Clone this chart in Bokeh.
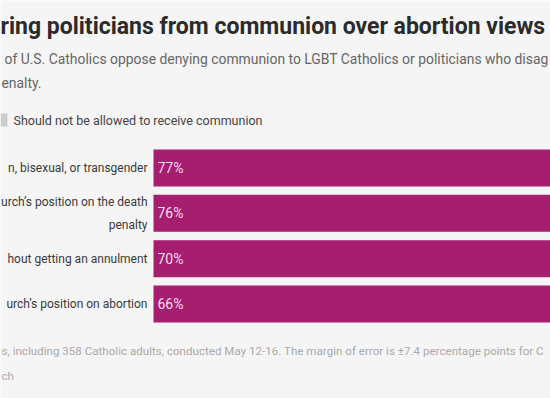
from bokeh.plotting import figure
from bokeh.models import Range1d, Label, BoxAnnotation, ColumnDataSource
from bokeh.core.properties import value
from bokeh.embed import file_html
from bokeh.resources import INLINE
import numpy as np

# ---------------- data (visible part of the chart) ----------------
title_text = "ring politicians from communion over abortion views"
subtitle_lines = [
    "of U.S. Catholics oppose denying communion to LGBT Catholics or politicians who disag",
    "enalty.",
]
legend_label = "Should not be allowed to receive communion"
categories = [
    "n, bisexual, or transgender",
    "urch\u2019s position on the death\npenalty",
    "hout getting an annulment",
    "urch\u2019s position on abortion",
]
should_be_allowed = [77, 76, 70, 66]
footnote_lines = [
    "s, including 358 Catholic adults, conducted May 12-16. The margin of error is \u00b17.4 percentage points for C",
    "ch",
]

# ---------------- layout ----------------
W, H = 550, 398
BG = "#f5f5f5"
BAR = "#a61e6f"
FONT = "Roboto"

PX_PER_PCT = 8.0
ZERO_X = 153.0          # page x of the bars' zero line
ROW = 45.33             # px per row
FIRST_CENTER = 167.5    # page y of first bar center

x_range = Range1d(-ZERO_X / PX_PER_PCT, (W - ZERO_X) / PX_PER_PCT)
y_range = Range1d((H - FIRST_CENTER) / ROW, -FIRST_CENTER / ROW)

p = figure(width=W, height=H, x_range=x_range, y_range=y_range,
           output_backend="svg", toolbar_location=None,
           min_border=0, min_border_left=0, min_border_right=0,
           min_border_top=0, min_border_bottom=0)
p.styles = {"position": "absolute", "left": "0px", "top": "0px"}
p.axis.visible = False
p.xgrid.visible = False
p.ygrid.visible = False
p.outline_line_color = None
p.background_fill_color = BG
p.border_fill_color = BG

idx = np.arange(len(categories))
src = ColumnDataSource(dict(
    y=idx,
    v=should_be_allowed,
    cat=categories,
    lab=[f"{v}%" for v in should_be_allowed],
    zero=[0] * len(categories),
))

p.hbar(y="y", left="zero", right="v", height=37 / ROW, source=src,
       fill_color=BAR, line_color=None)

p.text(x="zero", y="y", text="lab", source=src, x_offset=4,
       text_font=value(FONT), text_font_size="14px", text_color="#f9dcee",
       text_baseline="middle", text_align="left")

p.text(x="zero", y="y", text="cat", source=src, x_offset=-6,
       text_font=value(FONT), text_font_size="12px", text_color="#3a3a3a",
       text_baseline="middle", text_align="right", text_line_height=1.64)


def sy(page_y):
    return H - page_y


p.add_layout(Label(x=0, y=sy(26), x_units="screen", y_units="screen",
                   text=title_text, text_font=FONT, text_font_size="23px",
                   text_font_style="bold", text_color="#2b2b2b",
                   text_baseline="alphabetic"))
p.add_layout(Label(x=4, y=sy(58), x_units="screen", y_units="screen",
                   text=subtitle_lines[0], text_font=FONT, text_font_size="13.9px",
                   text_color="#666666", text_baseline="alphabetic"))
p.add_layout(Label(x=1, y=sy(82), x_units="screen", y_units="screen",
                   text=subtitle_lines[1], text_font=FONT, text_font_size="13.9px",
                   text_color="#666666", text_baseline="alphabetic"))

p.add_layout(BoxAnnotation(left=0, right=7, top=sy(113), bottom=sy(126),
                           left_units="screen", right_units="screen",
                           top_units="screen", bottom_units="screen",
                           fill_color="#cccccc", fill_alpha=1, line_color=None))
p.add_layout(Label(x=13, y=sy(120), x_units="screen", y_units="screen",
                   text=legend_label, text_font=FONT, text_font_size="12.5px",
                   text_color="#444444", text_baseline="middle"))

p.add_layout(Label(x=1, y=sy(350), x_units="screen", y_units="screen",
                   text=footnote_lines[0], text_font=FONT, text_font_size="11.6px",
                   text_color="#aaaaaa", text_baseline="alphabetic"))
p.add_layout(Label(x=1, y=sy(375), x_units="screen", y_units="screen",
                   text=footnote_lines[1], text_font=FONT, text_font_size="11.6px",
                   text_color="#aaaaaa", text_baseline="alphabetic"))

open("out.html", "w").write(file_html(p, INLINE))
